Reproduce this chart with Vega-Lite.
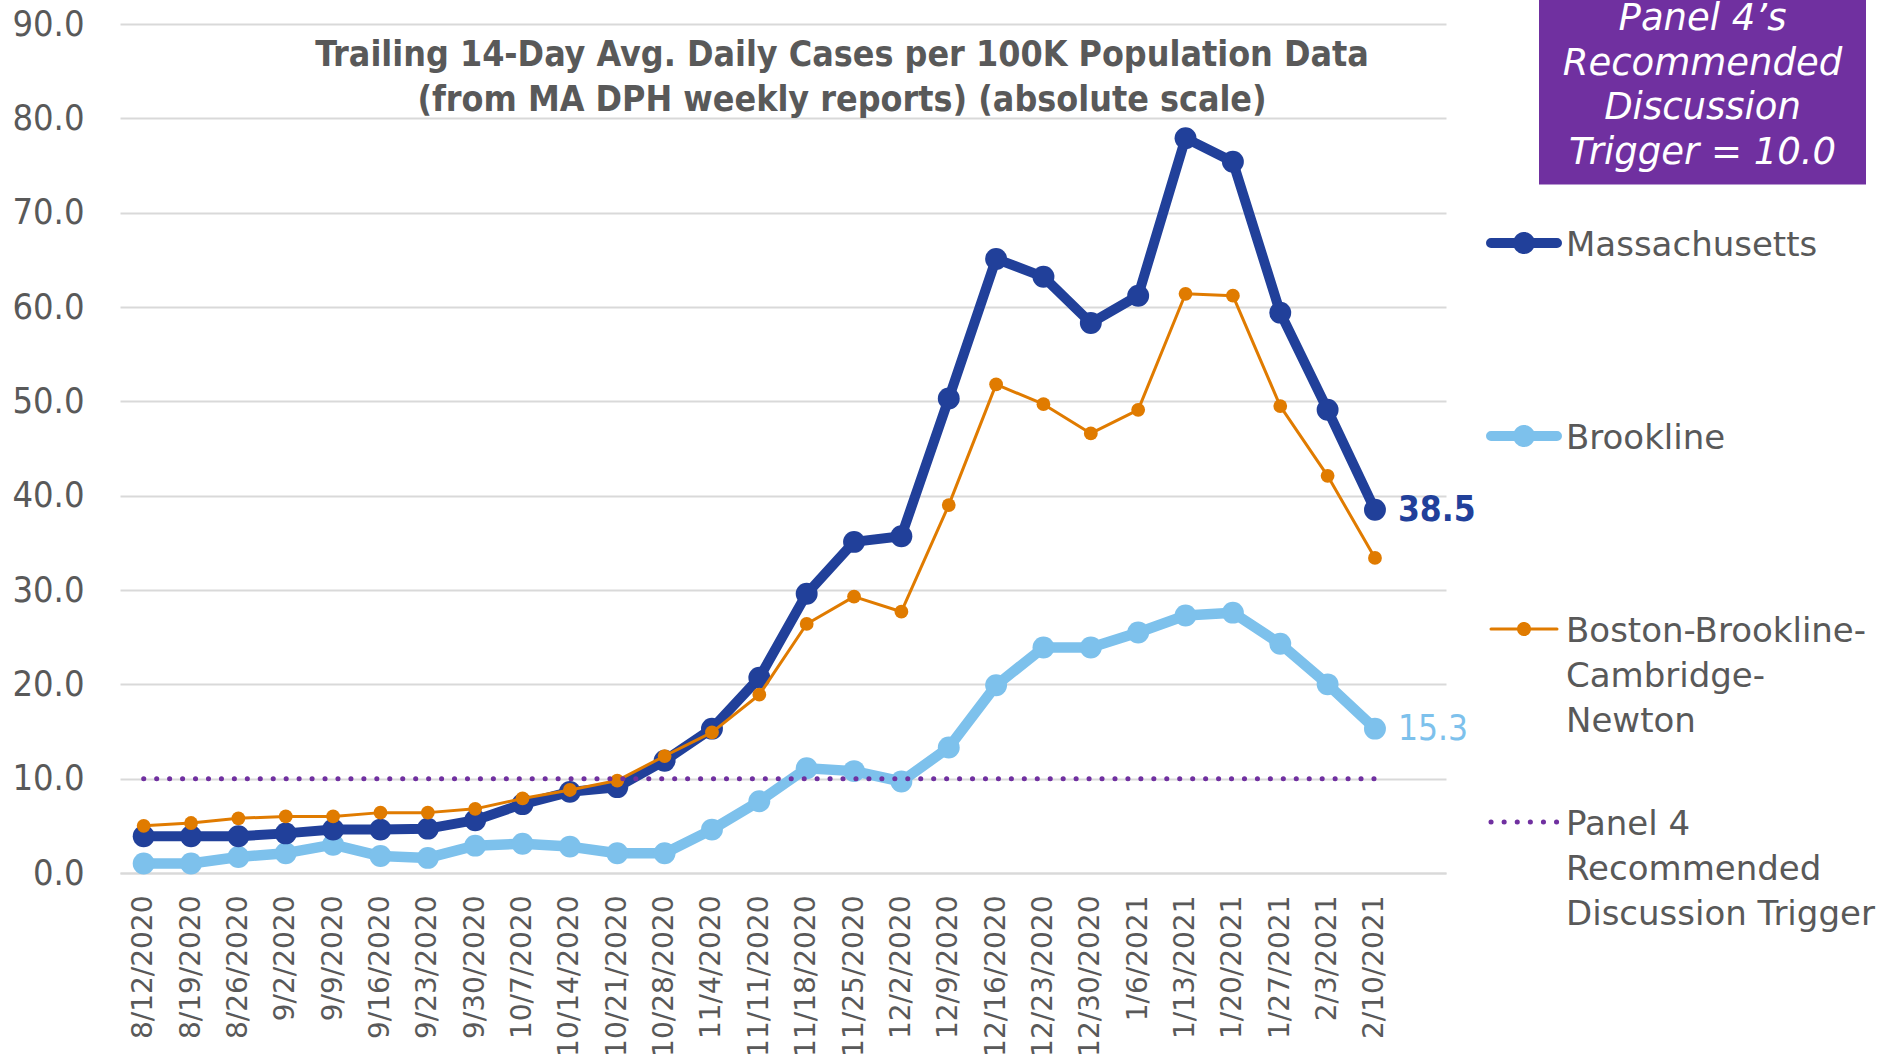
{
  "$schema": "https://vega.github.io/schema/vega-lite/v6.json",
  "autosize": {"type": "none"},
  "width": 1326,
  "height": 849,
  "padding": {"left": 120, "top": 24, "right": 439, "bottom": 184},
  "background": "white",
  "config": {"view": {"stroke": null}},
  "title": {
    "text": ["Trailing 14-Day Avg. Daily Cases per 100K Population Data", "(from MA DPH weekly reports) (absolute scale)"],
    "anchor": "middle", "frame": "group", "baseline": "top", "dx": 59, "offset": -130,
    "font": "DejaVu Sans Condensed, Liberation Sans, sans-serif", "fontSize": 35.5, "fontWeight": "bold", "color": "#595959", "lineHeight": 44.6
  },
  "data": {"values": [
    {"date": "8/12/2020", "series": "MA", "value": 3.9}, {"date": "8/19/2020", "series": "MA", "value": 3.9}, {"date": "8/26/2020", "series": "MA", "value": 3.9}, {"date": "9/2/2020", "series": "MA", "value": 4.2}, {"date": "9/9/2020", "series": "MA", "value": 4.6}, {"date": "9/16/2020", "series": "MA", "value": 4.6}, {"date": "9/23/2020", "series": "MA", "value": 4.7}, {"date": "9/30/2020", "series": "MA", "value": 5.6}, {"date": "10/7/2020", "series": "MA", "value": 7.3}, {"date": "10/14/2020", "series": "MA", "value": 8.6}, {"date": "10/21/2020", "series": "MA", "value": 9.1}, {"date": "10/28/2020", "series": "MA", "value": 11.9}, {"date": "11/4/2020", "series": "MA", "value": 15.3}, {"date": "11/11/2020", "series": "MA", "value": 20.7}, {"date": "11/18/2020", "series": "MA", "value": 29.6}, {"date": "11/25/2020", "series": "MA", "value": 35.1}, {"date": "12/2/2020", "series": "MA", "value": 35.7}, {"date": "12/9/2020", "series": "MA", "value": 50.3}, {"date": "12/16/2020", "series": "MA", "value": 65.1}, {"date": "12/23/2020", "series": "MA", "value": 63.2}, {"date": "12/30/2020", "series": "MA", "value": 58.3}, {"date": "1/6/2021", "series": "MA", "value": 61.2}, {"date": "1/13/2021", "series": "MA", "value": 77.9}, {"date": "1/20/2021", "series": "MA", "value": 75.4}, {"date": "1/27/2021", "series": "MA", "value": 59.4}, {"date": "2/3/2021", "series": "MA", "value": 49.1}, {"date": "2/10/2021", "series": "MA", "value": 38.5},
    {"date": "8/12/2020", "series": "BR", "value": 1.0}, {"date": "8/19/2020", "series": "BR", "value": 1.0}, {"date": "8/26/2020", "series": "BR", "value": 1.7}, {"date": "9/2/2020", "series": "BR", "value": 2.1}, {"date": "9/9/2020", "series": "BR", "value": 3.0}, {"date": "9/16/2020", "series": "BR", "value": 1.8}, {"date": "9/23/2020", "series": "BR", "value": 1.6}, {"date": "9/30/2020", "series": "BR", "value": 2.9}, {"date": "10/7/2020", "series": "BR", "value": 3.1}, {"date": "10/14/2020", "series": "BR", "value": 2.8}, {"date": "10/21/2020", "series": "BR", "value": 2.1}, {"date": "10/28/2020", "series": "BR", "value": 2.1}, {"date": "11/4/2020", "series": "BR", "value": 4.6}, {"date": "11/11/2020", "series": "BR", "value": 7.6}, {"date": "11/18/2020", "series": "BR", "value": 11.1}, {"date": "11/25/2020", "series": "BR", "value": 10.8}, {"date": "12/2/2020", "series": "BR", "value": 9.7}, {"date": "12/9/2020", "series": "BR", "value": 13.3}, {"date": "12/16/2020", "series": "BR", "value": 19.9}, {"date": "12/23/2020", "series": "BR", "value": 23.9}, {"date": "12/30/2020", "series": "BR", "value": 23.9}, {"date": "1/6/2021", "series": "BR", "value": 25.5}, {"date": "1/13/2021", "series": "BR", "value": 27.3}, {"date": "1/20/2021", "series": "BR", "value": 27.6}, {"date": "1/27/2021", "series": "BR", "value": 24.3}, {"date": "2/3/2021", "series": "BR", "value": 20.0}, {"date": "2/10/2021", "series": "BR", "value": 15.3},
    {"date": "8/12/2020", "series": "BBCN", "value": 5.0}, {"date": "8/19/2020", "series": "BBCN", "value": 5.3}, {"date": "8/26/2020", "series": "BBCN", "value": 5.8}, {"date": "9/2/2020", "series": "BBCN", "value": 6.0}, {"date": "9/9/2020", "series": "BBCN", "value": 6.0}, {"date": "9/16/2020", "series": "BBCN", "value": 6.4}, {"date": "9/23/2020", "series": "BBCN", "value": 6.4}, {"date": "9/30/2020", "series": "BBCN", "value": 6.8}, {"date": "10/7/2020", "series": "BBCN", "value": 7.9}, {"date": "10/14/2020", "series": "BBCN", "value": 8.8}, {"date": "10/21/2020", "series": "BBCN", "value": 9.8}, {"date": "10/28/2020", "series": "BBCN", "value": 12.4}, {"date": "11/4/2020", "series": "BBCN", "value": 14.9}, {"date": "11/11/2020", "series": "BBCN", "value": 18.9}, {"date": "11/18/2020", "series": "BBCN", "value": 26.4}, {"date": "11/25/2020", "series": "BBCN", "value": 29.3}, {"date": "12/2/2020", "series": "BBCN", "value": 27.7}, {"date": "12/9/2020", "series": "BBCN", "value": 39.0}, {"date": "12/16/2020", "series": "BBCN", "value": 51.8}, {"date": "12/23/2020", "series": "BBCN", "value": 49.7}, {"date": "12/30/2020", "series": "BBCN", "value": 46.6}, {"date": "1/6/2021", "series": "BBCN", "value": 49.1}, {"date": "1/13/2021", "series": "BBCN", "value": 61.4}, {"date": "1/20/2021", "series": "BBCN", "value": 61.2}, {"date": "1/27/2021", "series": "BBCN", "value": 49.5}, {"date": "2/3/2021", "series": "BBCN", "value": 42.1}, {"date": "2/10/2021", "series": "BBCN", "value": 33.4},
    {"date": "8/12/2020", "series": "TR", "value": 10}, {"date": "8/19/2020", "series": "TR", "value": 10}, {"date": "8/26/2020", "series": "TR", "value": 10}, {"date": "9/2/2020", "series": "TR", "value": 10}, {"date": "9/9/2020", "series": "TR", "value": 10}, {"date": "9/16/2020", "series": "TR", "value": 10}, {"date": "9/23/2020", "series": "TR", "value": 10}, {"date": "9/30/2020", "series": "TR", "value": 10}, {"date": "10/7/2020", "series": "TR", "value": 10}, {"date": "10/14/2020", "series": "TR", "value": 10}, {"date": "10/21/2020", "series": "TR", "value": 10}, {"date": "10/28/2020", "series": "TR", "value": 10}, {"date": "11/4/2020", "series": "TR", "value": 10}, {"date": "11/11/2020", "series": "TR", "value": 10}, {"date": "11/18/2020", "series": "TR", "value": 10}, {"date": "11/25/2020", "series": "TR", "value": 10}, {"date": "12/2/2020", "series": "TR", "value": 10}, {"date": "12/9/2020", "series": "TR", "value": 10}, {"date": "12/16/2020", "series": "TR", "value": 10}, {"date": "12/23/2020", "series": "TR", "value": 10}, {"date": "12/30/2020", "series": "TR", "value": 10}, {"date": "1/6/2021", "series": "TR", "value": 10}, {"date": "1/13/2021", "series": "TR", "value": 10}, {"date": "1/20/2021", "series": "TR", "value": 10}, {"date": "1/27/2021", "series": "TR", "value": 10}, {"date": "2/3/2021", "series": "TR", "value": 10}, {"date": "2/10/2021", "series": "TR", "value": 10}
  ]},
  "encoding": {
    "x": {
      "field": "date", "type": "ordinal", "sort": null,
      "scale": {"type": "point", "padding": 0.5, "domain": ["8/12/2020","8/19/2020","8/26/2020","9/2/2020","9/9/2020","9/16/2020","9/23/2020","9/30/2020","10/7/2020","10/14/2020","10/21/2020","10/28/2020","11/4/2020","11/11/2020","11/18/2020","11/25/2020","12/2/2020","12/9/2020","12/16/2020","12/23/2020","12/30/2020","1/6/2021","1/13/2021","1/20/2021","1/27/2021","2/3/2021","2/10/2021"," "]},
      "axis": {"title": null, "labelAngle": -90, "labelFont": "DejaVu Sans", "labelFontSize": 28, "labelColor": "#595959", "labelPadding": 22, "ticks": false, "domain": true, "domainColor": "#D9D9D9", "domainWidth": 2, "grid": false, "labelOverlap": false}
    },
    "y": {
      "field": "value", "type": "quantitative",
      "scale": {"domain": [0, 90], "nice": false},
      "axis": {"title": null, "values": [0,10,20,30,40,50,60,70,80,90], "format": ".1f", "labelFont": "DejaVu Sans Condensed, Liberation Sans, sans-serif", "labelFontSize": 36, "labelColor": "#595959", "labelPadding": 36, "ticks": false, "domain": false, "grid": true, "gridColor": "#D9D9D9", "gridWidth": 2}
    }
  },
  "layer": [
    {"transform": [{"filter": "datum.series == 'BR'"}], "mark": {"type": "line", "color": "#7DC1EC", "strokeWidth": 10.5, "strokeJoin": "round", "strokeCap": "round"}},
    {"transform": [{"filter": "datum.series == 'BR'"}], "mark": {"type": "point", "filled": true, "opacity": 1, "color": "#7DC1EC", "size": 480}},
    {"transform": [{"filter": "datum.series == 'MA'"}], "mark": {"type": "line", "color": "#21409A", "strokeWidth": 10, "strokeJoin": "round", "strokeCap": "round"}},
    {"transform": [{"filter": "datum.series == 'MA'"}], "mark": {"type": "point", "filled": true, "opacity": 1, "color": "#21409A", "size": 480}},
    {"transform": [{"filter": "datum.series == 'BBCN'"}], "mark": {"type": "line", "color": "#E07B00", "strokeWidth": 3, "strokeJoin": "round"}},
    {"transform": [{"filter": "datum.series == 'BBCN'"}], "mark": {"type": "point", "filled": true, "opacity": 1, "color": "#E07B00", "size": 190}},
    {
      "transform": [{"filter": "datum.series == 'TR'"}],
      "mark": {"type": "line", "strokeWidth": 5, "strokeCap": "round", "strokeDash": [0.1, 12.85]},
      "encoding": {
        "color": {
          "field": "series", "type": "nominal",
          "scale": {"domain": ["MA", "BR", "BBCN", "TR"], "range": ["#21409A", "#7DC1EC", "#E07B00", "#7030A0"]},
          "legend": {
            "orient": "none", "legendX": 1387, "legendY": 202, "title": null, "padding": 0,
            "symbolSize": 4356, "symbolStrokeWidth": 10,
            "labelFont": "DejaVu Sans", "labelFontSize": 34, "labelColor": "#595959", "labelOffset": 25, "labelLimit": 700,
            "labelBaseline": "top", "rowPadding": 57, "gridAlign": "all",
            "labelExpr": "datum.value == 'MA' ? 'Massachusetts' : datum.value == 'BR' ? 'Brookline' : datum.value == 'BBCN' ? ['Boston-Brookline-', 'Cambridge-', 'Newton'] : ['Panel 4', 'Recommended', 'Discussion Trigger']",
            "encode": {
              "symbols": {"update": {
                "shape": {"signal": "datum.value == 'TR' ? 'M-1,0L1,0' : datum.value == 'BBCN' ? 'M-1,0L1,0M-0.167,0A0.167,0.167,0,1,1,0.167,0A0.167,0.167,0,1,1,-0.167,0Z' : 'M-1,0L1,0M-0.18,0A0.18,0.18,0,1,1,0.18,0A0.18,0.18,0,1,1,-0.18,0Z'"},
                "strokeWidth": {"signal": "datum.value == 'TR' ? 5 : datum.value == 'BBCN' ? 3 : 10"},
                "strokeDash": {"signal": "datum.value == 'TR' ? [0.1, 13] : [1, 0]"},
                "stroke": {"signal": "scale('color', datum.value)"},
                "fill": {"signal": "scale('color', datum.value)"},
                "strokeCap": {"value": "round"},
                "opacity": {"value": 1},
                "size": {"value": 4356}
              }},
              "labels": {"update": {"dy": {"value": -14}, "lineHeight": {"value": 45}}}
            }
          }
        }
      }
    },
    {
      "transform": [{"filter": "datum.series == 'MA' && datum.date == '2/10/2021'"}],
      "mark": {"type": "text", "align": "left", "baseline": "middle", "dx": 23, "font": "DejaVu Sans Condensed, Liberation Sans, sans-serif", "fontSize": 35, "fontWeight": "bold", "color": "#21409A"},
      "encoding": {"text": {"field": "value", "type": "quantitative", "format": ".1f"}}
    },
    {
      "transform": [{"filter": "datum.series == 'BR' && datum.date == '2/10/2021'"}],
      "mark": {"type": "text", "align": "left", "baseline": "middle", "dx": 23, "font": "DejaVu Sans Condensed, Liberation Sans, sans-serif", "fontSize": 35, "color": "#7DC1EC"},
      "encoding": {"text": {"field": "value", "type": "quantitative", "format": ".1f"}}
    },
    {
      "data": {"values": [{"date": "8/12/2020", "value": 10, "box": "note"}]},
      "mark": {"type": "point", "opacity": 0},
      "encoding": {
        "shape": {
          "field": "box", "type": "nominal",
          "scale": {"domain": ["note"], "range": ["circle"]},
          "legend": {
            "orient": "none", "legendX": 1419, "legendY": -35.5,
            "title": ["Panel 4’s", "Recommended", "Discussion", "Trigger = 10.0"],
            "titleFont": "DejaVu Sans", "titleFontSize": 37, "titleFontStyle": "italic", "titleFontWeight": "normal",
            "titleColor": "white", "titleAlign": "center", "titleAnchor": "middle", "titleLineHeight": 44.5,
            "titlePadding": 0, "titleLimit": 1000, "fillColor": "#7030A0", "padding": 12.5,
            "symbolSize": 0, "symbolOpacity": 0, "symbolStrokeWidth": 0,
            "labelExpr": "''", "labelFontSize": 1, "labelOffset": 301
          }
        }
      }
    }
  ]
}
